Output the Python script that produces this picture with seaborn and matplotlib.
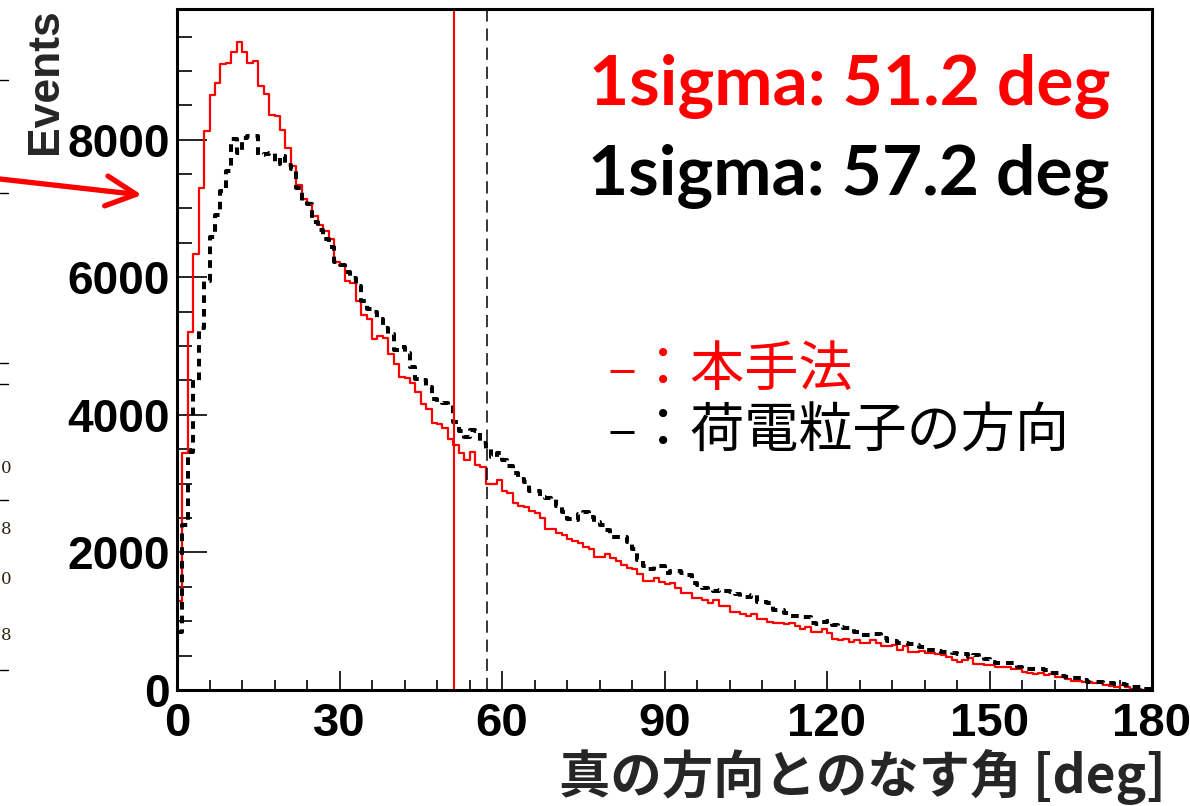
import numpy as np
import pandas as pd
import matplotlib
matplotlib.use("Agg")
import matplotlib.pyplot as plt
import seaborn as sns
from matplotlib.ticker import MultipleLocator
from matplotlib.patches import FancyArrowPatch
from matplotlib.lines import Line2D

# ---------------- data ----------------
angle_edges = list(range(0, 181))  # 1 degree bins

red_counts = [
    1300, 3450, 5210, 6335, 7300, 8120, 8645, 8830, 9095, 9120,
    9280, 9420, 9280, 9120, 9140, 8785, 8660, 8355, 8340, 8135,
    7875, 7620, 7340, 7145, 7080, 6890, 6756, 6670, 6560, 6228,
    6177, 5950, 5920, 5660, 5453, 5400, 5108, 5144, 5115, 4885,
    4742, 4554, 4538, 4462, 4330, 4153, 4090, 3882, 3863, 3810,
    3645, 3568, 3448, 3346, 3466, 3274, 3235, 2990, 2990, 3050,
    2895, 2860, 2723, 2674, 2655, 2602, 2577, 2495, 2340, 2340,
    2277, 2253, 2190, 2166, 2132, 2074, 2050, 1938, 1938, 1977,
    1914, 1880, 1817, 1768, 1754, 1681, 1589, 1589, 1623, 1575,
    1540, 1550, 1478, 1405, 1405, 1333, 1333, 1308, 1260, 1308,
    1221, 1221, 1139, 1139, 1100, 1080, 1105, 1032, 1032, 993,
    979, 979, 960, 969, 930, 882, 911, 848, 848, 890,
    830, 740, 720, 741, 705, 727, 678, 678, 727, 678,
    644, 644, 654, 581, 639, 557, 557, 572, 543, 543,
    523, 509, 475, 436, 412, 436, 460, 373, 378, 360,
    363, 339, 339, 329, 305, 305, 266, 252, 232, 242,
    218, 228, 194, 184, 160, 136, 136, 121, 111, 97,
    111, 73, 58, 48, 73, 39, 20, 10, 6, 5,
]

black_counts = [
    850, 2400, 3460, 4480, 5260, 5950, 6580, 6910, 7260, 7550,
    8010, 7800, 8020, 8050, 8050, 7780, 7790, 7800, 7650, 7770,
    7630, 7580, 7300, 7115, 7060, 6800, 6684, 6550, 6440, 6226,
    6178, 6080, 5990, 5880, 5650, 5540, 5500, 5400, 5260, 5180,
    4950, 4990, 4900, 4700, 4520, 4510, 4400, 4230, 4190, 4170,
    4145, 3900, 3760, 3680, 3780, 3770, 3590, 3510, 3380, 3450,
    3350, 3250, 3150, 3067, 3030, 2900, 2890, 2800, 2785, 2780,
    2680, 2582, 2480, 2470, 2560, 2590, 2520, 2440, 2400, 2325,
    2228, 2220, 2220, 2150, 2050, 1890, 1800, 1754, 1805, 1800,
    1700, 1730, 1725, 1700, 1670, 1555, 1520, 1490, 1455, 1440,
    1455, 1440, 1420, 1390, 1347, 1347, 1375, 1274, 1274, 1260,
    1163, 1163, 1115, 1076, 1076, 1066, 1060, 979, 960, 990,
    1010, 945, 920, 896, 896, 848, 799, 799, 814, 814,
    751, 717, 717, 678, 678, 668, 654, 630, 581, 581,
    572, 557, 547, 533, 523, 523, 484, 509, 475, 450,
    402, 388, 388, 397, 397, 339, 300, 300, 300, 300,
    290, 252, 252, 203, 194, 170, 170, 145, 121, 111,
    111, 106, 97, 87, 82, 73, 48, 39, 15, 10,
]

sigma_red = 51.2
sigma_black = 57.2
y_ticks = [0, 2000, 4000, 6000, 8000]
x_ticks = [0, 30, 60, 90, 120, 150, 180]
legend_red = "–：本手法"
legend_black = "–：荷電粒子の方向"
x_label = "真の方向とのなす角 [deg]"
y_label = "Events"
edge_digits = ["0", "8", "0", "8"]

# ---------------- style ----------------
sns.set_theme(style="white")
plt.rcParams["font.family"] = ["Liberation Sans", "Noto Sans CJK JP", "DejaVu Sans"]

W, H = 1190, 806
fig = plt.figure(figsize=(W / 100, H / 100), dpi=100)
ax = fig.add_axes([177 / W, 1 - 690 / H, 975 / W, 681 / H])

df = pd.DataFrame({
    "angle": np.array(angle_edges[:-1]) + 0.5,
    "red": red_counts,
    "black": black_counts,
})

sns.histplot(data=df, x="angle", weights="red", bins=angle_edges,
             element="step", fill=False, color="red", linewidth=1.6, ax=ax)
sns.histplot(data=df, x="angle", weights="black", bins=angle_edges,
             element="step", fill=False, color="black", linewidth=2.9,
             linestyle=(0, (1.9, 1.5)), ax=ax)

ax.axvline(sigma_red, color="red", lw=1.5)
ax.axvline(sigma_black, color="black", lw=1.1, linestyle=(0, (8, 4.5)))

ax.set_xlim(0, 180)
ax.set_ylim(0, 9900)
ax.set_xlabel("")
ax.set_ylabel("")
ax.set_xticks(x_ticks)
ax.set_yticks(y_ticks)
ax.xaxis.set_minor_locator(MultipleLocator(6))
ax.yaxis.set_minor_locator(MultipleLocator(500))

ax.tick_params(axis="y", which="major", direction="in", length=21.6, width=1.2,
               left=True, right=False, labelsize=33, pad=5, color="black", labelcolor="black")
ax.tick_params(axis="y", which="minor", direction="in", length=10.8, width=1.2,
               left=True, right=False, color="black")
ax.tick_params(axis="x", which="major", direction="in", length=13.7, width=1.2,
               bottom=True, top=False, labelsize=34, pad=9, color="black", labelcolor="black")
ax.tick_params(axis="x", which="minor", direction="in", length=7.2, width=1.2,
               bottom=True, top=False, color="black")
for lab in ax.get_xticklabels() + ax.get_yticklabels():
    lab.set_fontweight("bold")
    lab.set_family(["Liberation Sans", "DejaVu Sans"])

for s in ax.spines.values():
    s.set_linewidth(2.2)
    s.set_color("black")

# axis titles (ROOT style)
fig.text(45 / W, 1 - 8 / H, y_label, rotation=90, ha="center", va="top",
         fontsize=32, fontweight="bold", family=["Liberation Sans", "DejaVu Sans"])
fig.text(1166 / W, 1 - 777 / H, x_label, ha="right", va="center",
         fontsize=37, fontweight="bold", family=["Noto Sans CJK JP", "DejaVu Sans"])

# sigma annotations
fig.text(1110 / W, 1 - 105 / H, f"1sigma: {sigma_red} deg", ha="right", va="baseline",
         color="red", fontsize=50, fontweight="bold", family=["Lato", "DejaVu Sans"])
fig.text(1110 / W, 1 - 195 / H, f"1sigma: {sigma_black} deg", ha="right", va="baseline",
         color="black", fontsize=50, fontweight="bold", family=["Lato", "DejaVu Sans"])

# legend-like texts
fig.text(608 / W, 1 - 370 / H, legend_red, ha="left", va="center", color="red",
         fontsize=39, family=["Noto Sans CJK JP", "DejaVu Sans"])
fig.text(608 / W, 1 - 432 / H, legend_black, ha="left", va="center", color="black",
         fontsize=39, family=["Noto Sans CJK JP", "DejaVu Sans"])

# fragments of the neighbouring slide content on the left
arrow = FancyArrowPatch((0, 1 - 179 / H), (142 / W, 1 - 195 / H), transform=fig.transFigure,
                        arrowstyle="->,head_length=0.4,head_width=0.2", mutation_scale=54,
                        color="red", lw=3.8, shrinkA=0, shrinkB=0)
fig.add_artist(arrow)
for yy in [80, 193, 363, 384, 500, 670]:
    fig.add_artist(Line2D([0, 8 / W], [1 - yy / H, 1 - yy / H], transform=fig.transFigure,
                          color="black", lw=1.0))
for yy, ch in zip([468, 530, 580, 635], edge_digits):
    fig.text(1 / W, 1 - yy / H, ch, ha="left", va="center", fontsize=12,
             color="#2a2010", family=["DejaVu Serif"])

fig.savefig("out.png", dpi=100)
